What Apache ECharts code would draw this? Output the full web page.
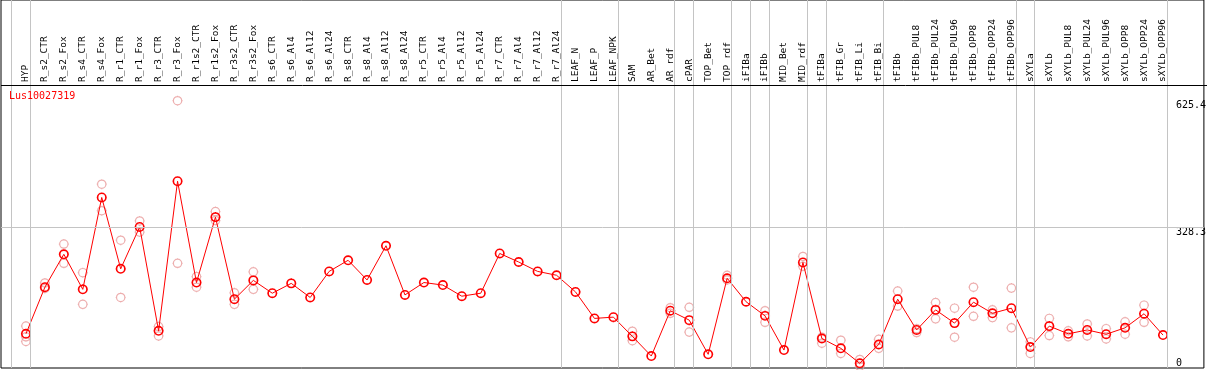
<!DOCTYPE html>
<html>
<head>
<meta charset="utf-8">
<script src="https://cdn.jsdelivr.net/npm/echarts@6/dist/echarts.min.js"></script>
<style>
  html, body { margin: 0; padding: 0; background: #fff; }
  #chart { width: 1209px; height: 370px; }
</style>
</head>
<body>
<div id="chart"></div>
<script>
const geneId = 'Lus10027319';

const categories = [
  'HYP', 'R_s2_CTR', 'R_s2_Fox', 'R_s4_CTR', 'R_s4_Fox', 'R_r1_CTR', 'R_r1_Fox', 'R_r3_CTR', 'R_r3_Fox',
  'R_r1s2_CTR', 'R_r1s2_Fox', 'R_r3s2_CTR', 'R_r3s2_Fox',
  'R_s6_CTR', 'R_s6_Al4', 'R_s6_Al12', 'R_s6_Al24', 'R_s8_CTR', 'R_s8_Al4', 'R_s8_Al12', 'R_s8_Al24',
  'R_r5_CTR', 'R_r5_Al4', 'R_r5_Al12', 'R_r5_Al24', 'R_r7_CTR', 'R_r7_Al4', 'R_r7_Al12', 'R_r7_Al24',
  'LEAF_N', 'LEAF_P', 'LEAF_NPK', 'SAM', 'AR_Bet', 'AR_rdf', 'cPAR', 'TOP_Bet', 'TOP_rdf',
  'iFIBa', 'iFIBb', 'MID_Bet', 'MID_rdf', 'tFIBa', 'tFIB_Gr', 'tFIB_Li', 'tFIB_Bi',
  'tFIBb', 'tFIBb_PUL8', 'tFIBb_PUL24', 'tFIBb_PUL96', 'tFIBb_OPP8', 'tFIBb_OPP24', 'tFIBb_OPP96',
  'sXYLa', 'sXYLb', 'sXYLb_PUL8', 'sXYLb_PUL24', 'sXYLb_PUL96', 'sXYLb_OPP8', 'sXYLb_OPP24', 'sXYLb_OPP96'
];

// mean expression per sample
const means = [
  80, 189, 266, 184, 399, 232, 330, 87, 437,
  200, 353, 161, 205,
  175, 198, 165, 226, 252, 206, 286, 171,
  200, 194, 168, 175, 268, 248, 226, 217,
  178, 116, 119, 74, 28, 134, 112, 32, 210,
  155, 122, 42, 247, 69, 46, 11, 55,
  161, 89, 136, 105, 154, 128, 140,
  49, 98, 80, 89, 79, 94, 127, 77
];

// individual replicates (null = hidden behind the mean marker)
const rep1 = [
  98, 199, 290, 223, 430, 299, 344, 97, 625.4,
  214, 366, 176, 225,
  null, null, null, null, null, null, null, null,
  null, null, null, null, null, null, null, null,
  null, null, null, 86, null, 141, 142, null, 217,
  null, 134, null, 261, 58, 65, 20, 67,
  180, 83, 153, 140, 189, 136, 187,
  61, 116, 87, 103, 92, 108, 147, null
];
const rep2 = [
  73, 186, 245, 149, 368, 165, 318, 75, 245,
  189, 345, 149, 184,
  null, null, null, null, null, null, null, null,
  null, null, null, null, null, null, null, null,
  null, null, null, 64, null, 128, 84, null, 206,
  null, 107, null, 238, 72, 34, 4, 46,
  145, 92, 115, 72, 121, 118, 94,
  34, 76, 73, 75, 68, 79, 107, null
];
const rep3 = [
  62, null, null, null, null, null, null, null, null,
  null, null, null, null,
  null, null, null, null, null, null, null, null,
  null, null, null, null, null, null, null, null,
  null, null, null, null, null, null, null, null, null,
  null, null, null, null, null, null, null, null,
  null, null, null, null, null, null, null,
  null, null, null, null, null, null, null, null
];

const yTickValues = [0, 328.3, 625.4];
const refLineValue = 328.3;
// separators drawn just after these sample indices
const groupEnds = [-1, 0, 28, 31, 34, 35, 37, 38, 39, 41, 42, 45, 52, 53, 60];

const ringSymbol = 'path://M1,6A5,5,0,1,1,11,6A5,5,0,1,1,1,6ZM6,0L6,1M6,11L6,12M0,6L1,6M11,6L12,6';
const monoFont = 'DejaVu Sans Mono';

document.addEventListener('DOMContentLoaded', function() {
  const chart = echarts.init(document.getElementById('chart'));

  const repData = [];
  [rep1, rep2, rep3].forEach(function(arr) {
    arr.forEach(function(v, i) {
      if (v !== null) repData.push([i, v]);
    });
  });

  const sepLines = groupEnds.map(function(i) { return { xAxis: i + 0.23 }; });
  sepLines.push({ yAxis: refLineValue });

  const option = {
    animation: false,
    title: {
      text: geneId,
      left: 9,
      top: 91,
      padding: 0,
      textStyle: { color: '#ff0000', fontFamily: monoFont, fontSize: 10, fontWeight: 'normal' }
    },
    grid: {
      left: 1,
      right: 2,
      top: 0,
      bottom: 2,
      show: true,
      borderColor: '#000',
      borderWidth: 1,
      backgroundColor: '#fff'
    },
    // header separator under the sample names
    graphic: [{
      type: 'line',
      z: 100,
      silent: true,
      shape: { x1: 1, y1: 85.5, x2: 1207, y2: 85.5 },
      style: { stroke: '#000', lineWidth: 1 }
    }],
    xAxis: {
      type: 'value',
      min: -1.316,
      max: 62.158,
      position: 'top',
      offset: -85,
      axisLine: { show: false },
      axisTick: { show: false },
      splitLine: { show: false },
      axisLabel: {
        customValues: categories.map(function(c, i) { return i; }),
        rotate: 90,
        margin: 3,
        color: '#000',
        fontFamily: monoFont,
        fontSize: 9.5,
        formatter: function(v) { return categories[v]; }
      }
    },
    yAxis: {
      type: 'value',
      min: 0,
      max: 861,
      position: 'right',
      axisLine: { show: false },
      axisTick: { show: false },
      splitLine: { show: false },
      axisLabel: {
        customValues: yTickValues,
        inside: true,
        align: 'left',
        verticalAlign: 'top',
        verticalAlignMinLabel: 'bottom',
        margin: 28,
        color: '#000',
        fontFamily: monoFont,
        fontSize: 10,
        formatter: function(v) { return String(v); }
      }
    },
    series: [
      {
        name: 'replicates',
        type: 'scatter',
        z: 2,
        symbol: ringSymbol,
        symbolSize: 10,
        itemStyle: { color: 'rgba(0,0,0,0)', borderColor: '#e99a9a', borderWidth: 1.2 },
        data: repData,
        markLine: {
          silent: true,
          symbol: 'none',
          label: { show: false },
          lineStyle: { color: '#c4c4c4', width: 1, type: 'solid' },
          data: sepLines
        }
      },
      {
        name: 'mean',
        type: 'line',
        z: 3,
        symbol: ringSymbol,
        symbolSize: 10,
        lineStyle: { color: '#ff0000', width: 1 },
        itemStyle: { color: 'rgba(0,0,0,0)', borderColor: '#ff0000', borderWidth: 1.6 },
        data: means.map(function(v, i) { return [i, v]; })
      }
    ]
  };
  chart.setOption(option);
});
</script>
</body>
</html>
